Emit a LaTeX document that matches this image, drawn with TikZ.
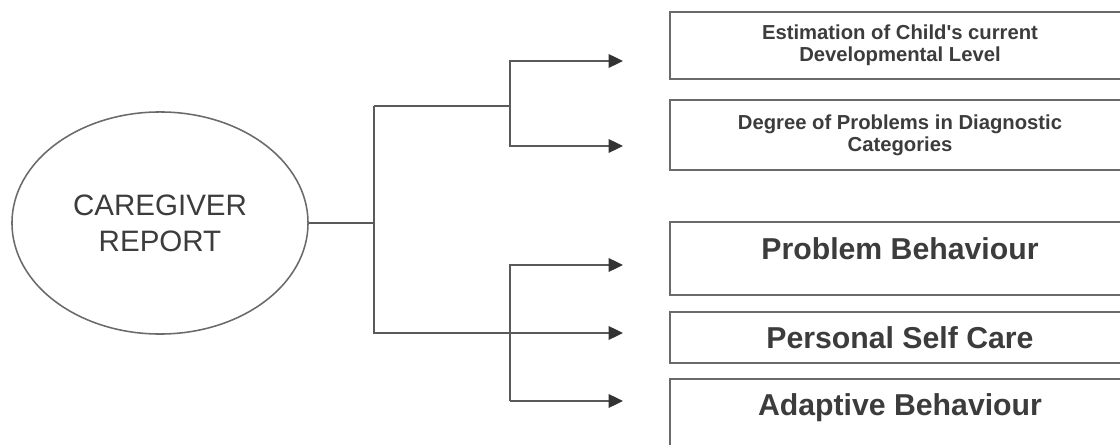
\documentclass[tikz,border=0pt]{standalone}
\usepackage{fontspec}
\setmainfont{Liberation Sans}
\usetikzlibrary{shapes.geometric,arrows.meta}
\definecolor{linegray}{HTML}{5A5A5A}
\definecolor{tipgray}{HTML}{333333}
\definecolor{textgray}{HTML}{3C3C3C}
\definecolor{boxgray}{HTML}{6A6A6A}
\tikzset{
  x=0.025cm, y=-0.025cm,
  conn/.style={draw=linegray, line width=1.2pt},
  arr/.style={conn, -{Triangle[length=0.36cm,width=0.34cm,color=tipgray]}},
  bigbox/.style={draw=boxgray, line width=1.1pt, rectangle, inner sep=0pt,
    minimum width=11.5cm, text=textgray, align=center},
  smalltext/.style={font=\bfseries\fontsize{14.4}{15.6}\selectfont},
  largetext/.style={font=\bfseries\fontsize{21.5}{25}\selectfont},
  oval/.style={draw=boxgray, line width=1.1pt, ellipse, inner sep=0pt,
    minimum width=7.4cm, minimum height=5.55cm, text=textgray, align=center,
    font=\fontsize{21}{25.6}\selectfont}
}
\begin{document}
\begin{tikzpicture}
\useasboundingbox (0,0) rectangle (1120,445);
\clip (0,0) rectangle (1120,445);
\fill[white] (0,0) rectangle (1120,445);

\node[oval] (cr) at (160,223) {CAREGIVER\\REPORT};

\node[bigbox, smalltext, minimum height=1.675cm] (est) at (900,45.5)
  {Estimation of Child\textquotesingle s current\\Developmental Level};
\node[bigbox, smalltext, minimum height=1.75cm] (deg) at (900,135)
  {Degree of Problems in Diagnostic\\Categories};
\node[bigbox, largetext, minimum height=1.825cm, text depth=0.48cm] (pb) at (900,258.5)
  {Problem Behaviour};
\node[bigbox, largetext, minimum height=1.275cm] (psc) at (900,337.5)
  {Personal Self Care};
\node[bigbox, largetext, minimum height=1.775cm, text depth=0.48cm] (ab) at (900,414.5)
  {Adaptive Behaviour};

\coordinate (j0) at (374,223);
\coordinate (jt) at (374,106);
\coordinate (jb) at (374,333);
\coordinate (b1) at (510,106);
\coordinate (b2t) at (510,265);
\coordinate (b2b) at (510,401);
\coordinate (t1) at (623,61);
\coordinate (t2) at (623,146);
\coordinate (t3) at (623,265);
\coordinate (t4) at (623,333);
\coordinate (t5) at (623,401);

\draw[conn] (cr.east) -- (j0);
\draw[conn] (jt) -- (b1);
\draw[arr] (jt) -- (jb) -- (t4);
\draw[arr] (b1) |- (t1);
\draw[arr] (b1) |- (t2);
\draw[arr] (b2b) -- (b2t) -- (t3);
\draw[arr] (b2b) -- (t5);
\end{tikzpicture}
\end{document}
